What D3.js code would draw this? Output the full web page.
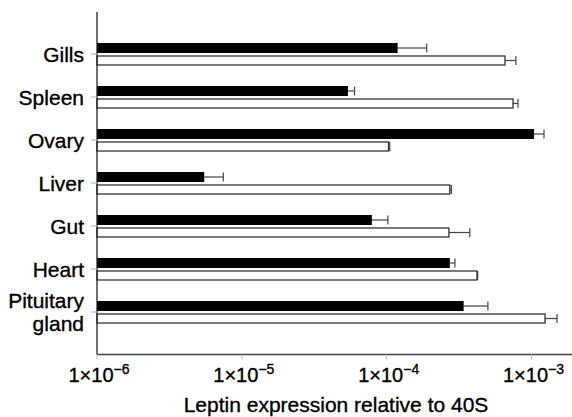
<!DOCTYPE html>
<html>
<head>
<meta charset="utf-8">
<script src="https://cdn.jsdelivr.net/npm/d3@7"></script>
<style>
  body { margin: 0; background: #fff; }
  text { font-family: "Liberation Sans", Arial, Helvetica, sans-serif; fill: #000; stroke: #000; stroke-width: 0.35px; }
</style>
</head>
<body>
<div id="main"></div>
<script>
// tissues, top to bottom
const tissues = ["Gills", "Spleen", "Ovary", "Liver", "Gut", "Heart", "Pituitary gland"];

// black bars (upper bar of each pair) and top of their error bars
const blackVals = [1.19e-4, 5.4e-5, 1.04e-3, 5.5e-6, 7.9e-5, 2.73e-4, 3.4e-4];
const blackErrHi = [1.89e-4, 6.0e-5, 1.22e-3, 7.45e-6, 1.02e-4, 2.96e-4, 5.0e-4];

// white bars (lower bar of each pair)
const whiteVals = [6.56e-4, 7.45e-4, 1.03e-4, 2.73e-4, 2.69e-4, 4.2e-4, 1.24e-3];
const whiteErrHi = [7.8e-4, 8.07e-4, 1.05e-4, 2.8e-4, 3.75e-4, 4.25e-4, 1.5e-3];

// x axis ticks: [value, exponent]
const xTicks = [[1e-6, "\u22126"], [1e-5, "\u22125"], [1e-4, "\u22124"], [1e-3, "\u22123"]];
const xTitle = "Leptin expression relative to 40S";

const ctx = {
    svg_w: 572,
    svg_h: 417,
    left: 97,
    axis_y: 354.5,
    top: 12,
    font_size: 21,
};

function createViz() {
    let svg = d3.select("#main").append("svg")
        .attr("width", ctx.svg_w)
        .attr("height", ctx.svg_h);

    let x = d3.scaleLog()
        .domain([1e-6, 1e-3])
        .range([ctx.left, 531.5]);

    let y = d3.scalePoint()
        .domain(tissues)
        .range([54, 312]);

    let rows = tissues.map((t, i) => ({
        t: t,
        b: blackVals[i], be: blackErrHi[i],
        w: whiteVals[i], we: whiteErrHi[i]
    }));

    let g = svg.append("g").attr("id", "bars");

    // error bars behind the bars
    let errs = g.selectAll(".err")
        .data(rows)
        .enter().append("g")
        .attr("class", "err")
        .style("stroke", "#444")
        .style("stroke-width", 1.2);

    [["b", "be", -6], ["w", "we", 6.5]].forEach(([v, e, dy]) => {
        errs.append("line")
            .attr("x1", d => x(d[v]))
            .attr("x2", d => x(d[e]))
            .attr("y1", d => y(d.t) + dy)
            .attr("y2", d => y(d.t) + dy);
        errs.append("line")
            .attr("x1", d => x(d[e]))
            .attr("x2", d => x(d[e]))
            .attr("y1", d => y(d.t) + dy - 4.5)
            .attr("y2", d => y(d.t) + dy + 4.5);
    });

    // black bars
    g.selectAll(".bbar")
        .data(rows)
        .enter().append("rect")
        .attr("class", "bbar")
        .attr("x", ctx.left)
        .attr("y", d => y(d.t) - 11)
        .attr("width", d => x(d.b) - ctx.left)
        .attr("height", 10)
        .style("fill", "#000");

    // white bars
    g.selectAll(".wbar")
        .data(rows)
        .enter().append("rect")
        .attr("class", "wbar")
        .attr("x", ctx.left)
        .attr("y", d => y(d.t) + 2)
        .attr("width", d => x(d.w) - ctx.left)
        .attr("height", 9)
        .style("fill", "#fff")
        .style("stroke", "#333")
        .style("stroke-width", 1.3);

    // y axis
    svg.append("line")
        .attr("x1", ctx.left).attr("x2", ctx.left)
        .attr("y1", ctx.top).attr("y2", ctx.axis_y)
        .style("stroke", "#222")
        .style("stroke-width", 1.3);

    svg.selectAll(".ytick")
        .data(tissues)
        .enter().append("line")
        .attr("class", "ytick")
        .attr("x1", 91).attr("x2", ctx.left)
        .attr("y1", d => y(d)).attr("y2", d => y(d))
        .style("stroke", "#aaa");

    let ylab = svg.selectAll(".ylab")
        .data(tissues)
        .enter().append("text")
        .attr("class", "ylab")
        .attr("text-anchor", "end")
        .style("font-size", ctx.font_size + "px");

    ylab.each(function (d) {
        let words = d.split(" ");
        let el = d3.select(this);
        if (words.length == 1) {
            el.append("tspan").attr("x", 84).attr("y", y(d) + 8).text(d);
        } else {
            el.append("tspan").attr("x", 84).attr("y", y(d) - 4).text(words[0]);
            el.append("tspan").attr("x", 84).attr("y", y(d) + 19).text(words[1]);
        }
    });

    // x axis
    svg.append("line")
        .attr("x1", ctx.left).attr("x2", ctx.svg_w)
        .attr("y1", ctx.axis_y).attr("y2", ctx.axis_y)
        .style("stroke", "#444")
        .style("stroke-width", 1.3);

    svg.selectAll(".xtick")
        .data(xTicks)
        .enter().append("line")
        .attr("class", "xtick")
        .attr("x1", d => x(d[0])).attr("x2", d => x(d[0]))
        .attr("y1", ctx.axis_y).attr("y2", ctx.axis_y + 5)
        .style("stroke", "#bbb");

    let xlab = svg.selectAll(".xlab")
        .data(xTicks)
        .enter().append("text")
        .attr("class", "xlab")
        .attr("x", d => x(d[0]) + 2)
        .attr("y", 382)
        .attr("text-anchor", "middle")
        .style("font-size", "20px");
    xlab.append("tspan").text("1\u00d710");
    xlab.append("tspan")
        .attr("dy", -8)
        .style("font-size", "14px")
        .text(d => d[1]);

    svg.append("text")
        .attr("x", 336)
        .attr("y", 412)
        .attr("text-anchor", "middle")
        .style("font-size", ctx.font_size + "px")
        .text(xTitle);
}

createViz();
</script>
</body>
</html>
